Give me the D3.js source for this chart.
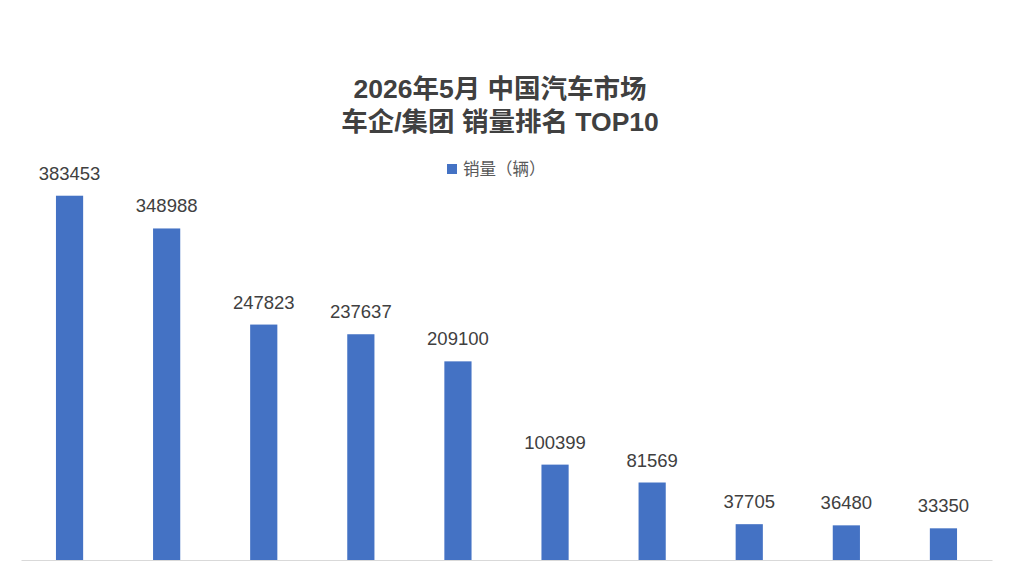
<!DOCTYPE html>
<html>
<head>
<meta charset="utf-8">
<script src="https://cdn.jsdelivr.net/npm/d3@7"></script>
<style>
  body { margin: 0; background: #fff; }
  svg text { font-family: "Liberation Sans", Arial, "Noto Sans CJK SC", sans-serif; }
</style>
</head>
<body>
<div class="chart"></div>
<script>
const width = 1009;
const height = 567;

// rank order (names not shown in the picture)
const ranks = ["1", "2", "3", "4", "5", "6", "7", "8", "9", "10"];
const sales = [383453, 348988, 247823, 237637, 209100, 100399, 81569, 37705, 36480, 33350];
const titleLines = ["2026年5月 中国汽车市场", "车企/集团 销量排名 TOP10"];
const seriesName = "销量（辆）";

const margin = { top: 180, right: 17, bottom: 7, left: 21 };

const svg = d3.select(".chart")
  .append("svg")
  .attr("width", width)
  .attr("height", height);

const x = d3.scaleBand()
  .domain(ranks)
  .range([margin.left, width - margin.right])
  .paddingInner(0.72)
  .paddingOuter(0.36);

const y = d3.scaleLinear()
  .domain([0, 400000])
  .range([height - margin.bottom, margin.top]);

// title
svg.append("g")
  .selectAll("text")
  .data(titleLines)
  .enter()
  .append("text")
  .attr("x", 500)
  .attr("y", (d, i) => 98 + i * 33)
  .attr("text-anchor", "middle")
  .style("font-size", "26.5px")
  .style("font-weight", "bold")
  .style("fill", "#404040")
  .text(d => d);

// legend
const legend = svg.append("g").attr("transform", "translate(447,164)");
legend.append("rect")
  .attr("width", 10)
  .attr("height", 10)
  .style("fill", "#4472C4");
legend.append("text")
  .attr("x", 16)
  .attr("y", 11)
  .style("font-size", "16.5px")
  .style("fill", "#595959")
  .text(seriesName);

// bars
svg.selectAll(".bar")
  .data(sales)
  .enter()
  .append("rect")
  .attr("class", "bar")
  .attr("x", (d, i) => x(ranks[i]))
  .attr("y", d => y(d))
  .attr("width", x.bandwidth())
  .attr("height", d => y(0) - y(d))
  .style("fill", "#4472C4");

// baseline
const xAxis = d3.axisBottom(x).tickSize(0).tickFormat("");
svg.append("g")
  .attr("transform", `translate(0,${y(0)})`)
  .call(xAxis)
  .call(g => g.select(".domain").attr("stroke", "#d9d9d9"));

// value labels
svg.selectAll(".label")
  .data(sales)
  .enter()
  .append("text")
  .attr("class", "label")
  .attr("x", (d, i) => x(ranks[i]) + x.bandwidth() / 2)
  .attr("y", d => y(d) - 16)
  .attr("text-anchor", "middle")
  .style("font-size", "18.5px")
  .style("fill", "#404040")
  .text(d => d);
</script>
</body>
</html>
